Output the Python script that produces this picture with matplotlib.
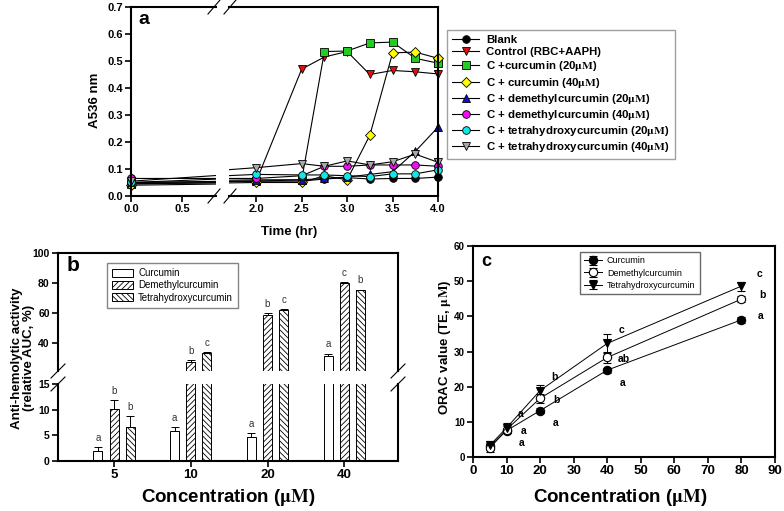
import numpy as np
import matplotlib
matplotlib.use('Agg')
import matplotlib.pyplot as plt
from matplotlib.patches import Patch
from matplotlib.lines import Line2D

plt.rcParams['font.family'] = ['Liberation Sans', 'DejaVu Sans']
plt.rcParams['font.weight'] = 'bold'
plt.rcParams['mathtext.fontset'] = 'stix'
plt.rcParams['hatch.linewidth'] = 0.6

# ---- panel a: A536 vs time ----
time_hr = [0.0, 2.0, 2.5, 2.75, 3.0, 3.25, 3.5, 3.75, 4.0]
blank   = [0.045, 0.055, 0.055, 0.063, 0.068, 0.063, 0.065, 0.065, 0.070]
control = [0.050, 0.055, 0.470, 0.515, 0.535, 0.450, 0.465, 0.460, 0.452]
cur20   = [0.045, 0.055, 0.060, 0.535, 0.537, 0.567, 0.570, 0.510, 0.492]
cur40   = [0.040, 0.050, 0.050, 0.075, 0.060, 0.225, 0.530, 0.533, 0.510]
dem20   = [0.050, 0.060, 0.060, 0.065, 0.070, 0.080, 0.090, 0.165, 0.255]
dem40   = [0.065, 0.065, 0.075, 0.110, 0.110, 0.115, 0.115, 0.115, 0.110]
tet20   = [0.050, 0.080, 0.078, 0.078, 0.075, 0.072, 0.082, 0.082, 0.097]
tet40   = [0.055, 0.105, 0.120, 0.110, 0.130, 0.115, 0.127, 0.155, 0.125]

mu = r'$\mathrm{\mu M}$'
series_a = [
    ('Blank', blank, 'o', 'black'),
    ('Control (RBC+AAPH)', control, 'v', '#e01010'),
    ('C +curcumin (20' + mu + ')', cur20, 's', '#22cc22'),
    ('C + curcumin (40' + mu + ')', cur40, 'D', '#ffff00'),
    ('C + demethylcurcumin (20' + mu + ')', dem20, '^', '#1010c0'),
    ('C + demethylcurcumin (40' + mu + ')', dem40, 'o', '#ee10ee'),
    ('C + tetrahydroxycurcumin (20' + mu + ')', tet20, 'o', '#10e8e8'),
    ('C + tetrahydroxycurcumin (40' + mu + ')', tet40, 'v', '#a8a8a8'),
]

# ---- panel b: anti-hemolytic activity ----
conc_b = ['5', '10', '20', '40']
cur_b = [2.0, 5.8, 4.7, 31.0]
cur_b_err = [0.7, 0.8, 0.8, 1.7]
dem_b = [10.1, 27.0, 58.5, 80.0]
dem_b_err = [1.8, 1.3, 1.5, 0.5]
tet_b = [6.6, 33.0, 62.0, 75.0]
tet_b_err = [2.2, 0.5, 0.5, 0.5]
cur_b_let = ['a', 'a', 'a', 'a']
dem_b_let = ['b', 'b', 'b', 'c']
tet_b_let = ['b', 'c', 'c', 'b']

# ---- panel c: ORAC ----
conc_c = [5, 10, 20, 40, 80]
cur_c = [3.0, 7.5, 13.2, 24.7, 39.0]
cur_c_err = [1.0, 0.8, 0.7, 0.7, 0.9]
dem_c = [2.5, 7.8, 16.7, 28.3, 44.9]
dem_c_err = [1.2, 1.0, 1.3, 1.5, 0.8]
tet_c = [3.3, 8.3, 18.9, 32.3, 48.6]
tet_c_err = [1.2, 1.3, 1.7, 2.6, 1.3]
cur_c_let = ['', 'a', 'a', 'a', 'a']
dem_c_let = ['', 'a', 'b', 'ab', 'b']
tet_c_let = ['', 'a', 'b', 'c', 'c']

W, H = 784, 511
fig = plt.figure(figsize=(W / 100, H / 100), dpi=100)


def px_axes(left, top, right, bottom):
    return fig.add_axes([left / W, 1 - bottom / H, (right - left) / W, (bottom - top) / H])


def slash(x, y, dx=6, dy=7, lw=0.8):
    fig.add_artist(Line2D([(x - dx) / W, (x + dx) / W], [1 - (y + dy) / H, 1 - (y - dy) / H],
                          transform=fig.transFigure, color='black', lw=lw))


def style(ax, lsize=8):
    for s in ax.spines.values():
        s.set_linewidth(1.5)
    ax.tick_params(direction='out', length=4, width=1.2, labelsize=lsize, pad=2)


# panel a (broken x axis: two axes side by side)
axL = px_axes(131, 7, 216, 196)
axR = px_axes(229, 7, 438, 196)
mk_kw = dict(ms=5.5, mec='black', mew=0.6)
for ax in (axL, axR):
    for label, ys, mk, col in series_a:
        ax.plot(time_hr, ys, color='black', lw=0.8, marker=mk, mfc=col, **mk_kw)
    ax.set_ylim(0, 0.7)
    style(ax, 8)
# end markers sit on the spines, keep them whole
for label, ys, mk, col in series_a:
    axL.plot(time_hr[:1], ys[:1], lw=0, marker=mk, mfc=col, clip_on=False, **mk_kw)
    axR.plot(time_hr[-1:], ys[-1:], lw=0, marker=mk, mfc=col, clip_on=False, **mk_kw)
axL.set_xlim(0, 0.833)
axR.set_xlim(1.70, 4.0)
axL.spines['right'].set_visible(False)
axR.spines['left'].set_visible(False)
axL.set_xticks([0.0, 0.5])
axL.set_xticklabels(['0.0', '0.5'])
yt = np.arange(0, 0.71, 0.1)
axL.set_yticks(yt)
axL.set_yticklabels(['%.1f' % v for v in yt])
axR.set_xticks([2.0, 2.5, 3.0, 3.5, 4.0])
axR.set_xticklabels(['2.0', '2.5', '3.0', '3.5', '4.0'])
axR.tick_params(left=False, labelleft=False)
for y in (7, 196):
    slash(214, y)
    slash(230, y)
fig.text(144 / W, 1 - 20 / H, 'a', fontsize=14, ha='center', va='center')
fig.text(95 / W, 1 - 100 / H, 'A536 nm', rotation=90, fontsize=9.5, ha='center', va='center')
fig.text(289 / W, 1 - 232 / H, 'Time (hr)', fontsize=9.5, ha='center', va='center')
handles = [Line2D([], [], color='black', lw=0.8, marker=mk, mfc=col, **mk_kw)
           for _, _, mk, col in series_a]
fig.legend(handles, [s[0] for s in series_a], loc='upper left', bbox_to_anchor=(447 / W, 1 - 30 / H),
           borderaxespad=0, frameon=True, fancybox=False, edgecolor='#888888',
           labelspacing=0.19, handlelength=2.4, handletextpad=0.6, borderpad=0.45,
           prop={'weight': 'bold', 'size': 8.2})

# panel b (broken y axis: two axes stacked)
axBL = px_axes(58, 384, 398, 461)
axBU = px_axes(58, 253, 398, 371)
xb = np.arange(len(conc_b))
bar_series = [
    ('Curcumin', cur_b, cur_b_err, cur_b_let, '', -0.21),
    ('Demethylcurcumin', dem_b, dem_b_err, dem_b_let, '//////', 0.0),
    ('Tetrahydroxycurcumin', tet_b, tet_b_err, tet_b_let, '\\\\\\\\\\\\', 0.21),
]
for ax in (axBL, axBU):
    for name, vals, errs, lets, hatch, off in bar_series:
        ax.bar(xb + off, vals, width=0.117, color='white', edgecolor='black', lw=0.7, hatch=hatch)
        ax.errorbar(xb + off, vals, yerr=[np.zeros(len(vals)), errs], fmt='none', ecolor='black',
                    elinewidth=0.7, capsize=3, capthick=0.7)
    ax.set_xlim(-0.73, 3.70)
    style(ax, 7.5)
for name, vals, errs, lets, hatch, off in bar_series:
    for i, (v, e, t) in enumerate(zip(vals, errs, lets)):
        top = v + e
        ax = axBL if top < 15 else axBU
        ax.annotate(t, (xb[i] + off, top), xytext=(0, 3), textcoords='offset points',
                    ha='center', va='bottom', fontsize=7, fontweight='normal', color='#333333')
axBL.set_ylim(0, 15)
axBL.set_yticks([0, 5, 10, 15])
axBU.set_ylim(21, 100)
axBU.set_yticks([40, 60, 80, 100])
axBL.spines['top'].set_visible(False)
axBU.spines['bottom'].set_visible(False)
axBU.tick_params(bottom=False, labelbottom=False)
axBL.set_xticks(xb)
axBL.set_xticklabels(conc_b, fontsize=9.5)
for x in (58, 398):
    slash(x, 371, dx=7, dy=7)
    slash(x, 384, dx=7, dy=7)
axBU.legend([Patch(facecolor='white', edgecolor='black', lw=0.7, hatch=s[4]) for s in bar_series],
            [s[0] for s in bar_series], loc='upper left', bbox_to_anchor=(0.144, 0.915), borderaxespad=0,
            fancybox=False, edgecolor='#666666', prop={'weight': 'normal', 'size': 7},
            handlelength=2.2, handleheight=0.9, labelspacing=0.25, borderpad=0.5, handletextpad=0.5)
fig.text(73 / W, 1 - 265 / H, 'b', fontsize=15, ha='center', va='center')
fig.text(23 / W, 1 - 358 / H, 'Anti-hemolytic activity\n(relative AUC, %)', rotation=90,
         fontsize=9.5, ha='center', va='center', linespacing=1.1)
fig.text(228 / W, 1 - 498 / H, 'Concentration (' + mu + ')', fontsize=13.5, ha='center', va='center')

# panel c
axC = px_axes(473, 246, 775, 457)
c_series = [
    ('Curcumin', cur_c, cur_c_err, cur_c_let, 'o', 'black', (11, -9)),
    ('Demethylcurcumin', dem_c, dem_c_err, dem_c_let, 'o', 'white', (12, -1)),
    ('Tetrahydroxycurcumin', tet_c, tet_c_err, tet_c_let, 'v', 'black', (10, 10)),
]
for name, vals, errs, lets, mk, fc, off in c_series:
    axC.errorbar(conc_c, vals, yerr=errs, color='black', lw=0.7, marker=mk, ms=6, mfc=fc, mec='black',
                 mew=0.8, ecolor='black', elinewidth=0.7, capsize=3, capthick=0.7, label=name)
    for i, (x, v, t) in enumerate(zip(conc_c, vals, lets)):
        o = off if x != 80 else (off[0] + 3, 3 + (6 if mk == 'v' else 0))
        axC.annotate(t, (x, v), xytext=o, textcoords='offset points', ha='center', va='center', fontsize=7.5)
axC.set_xlim(0, 90)
axC.set_ylim(0, 60)
axC.set_xticks(range(0, 91, 10))
axC.set_yticks(range(0, 61, 10))
style(axC, 7)
axC.tick_params(axis='x', labelsize=9.5)
axC.legend(loc='upper left', bbox_to_anchor=(0.354, 0.972), borderaxespad=0, fancybox=False,
           edgecolor='#444444', prop={'weight': 'normal', 'size': 6.5}, handlelength=2.0,
           labelspacing=0.35, borderpad=0.5, handletextpad=0.5)
fig.text(486 / W, 1 - 262 / H, 'c', fontsize=13, ha='center', va='center')
fig.text(445 / W, 1 - 347 / H, 'ORAC value (TE, ' + mu + ')', rotation=90, fontsize=9.5,
         ha='center', va='center')
fig.text(620 / W, 1 - 498 / H, 'Concentration (' + mu + ')', fontsize=13.5, ha='center', va='center')

fig.savefig('out.png', dpi=100)
